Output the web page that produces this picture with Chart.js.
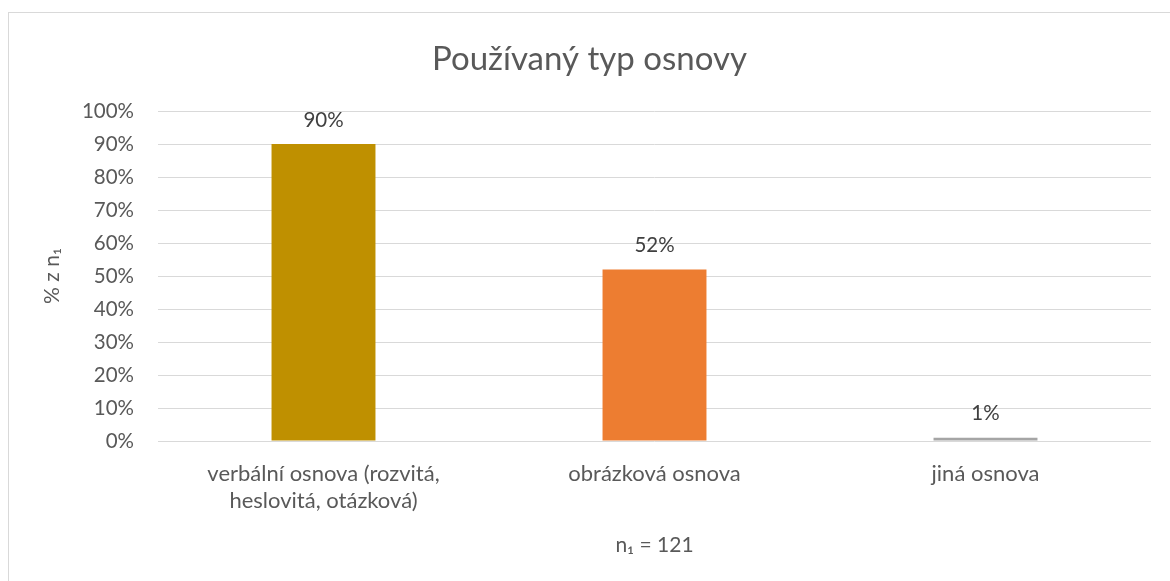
<!DOCTYPE html>
<html>
<head>
<meta charset="utf-8">
<script src="https://cdn.jsdelivr.net/npm/chart.js@4"></script>
<style>
    body { margin: 0; background: #fff; }
    #wrap { position: relative; width: 1170px; height: 581px; overflow: hidden; }
    #frame { position: absolute; left: 8px; top: 12px; width: 1200px; height: 620px; border: 1.5px solid #d9d9d9; }
    #chart { position: absolute; left: 0; top: 0; }
</style>
</head>
<body>
<div id="wrap">
    <div id="frame"></div>
    <canvas id="chart" width="1170" height="581"></canvas>
</div>
<script>
const categories = [
    ['verbální osnova (rozvitá,', 'heslovitá, otázková)'],
    'obrázková osnova',
    'jiná osnova'
];
const values = [90, 52, 1];
const barColors = ['#BF9000', '#ED7D31', '#A5A5A5'];
const yTicks = [0, 10, 20, 30, 40, 50, 60, 70, 80, 90, 100];

const fontFamily = 'Lato, "Open Sans", sans-serif';

// popisky hodnot nad sloupci
const valueLabels = {
    id: 'valueLabels',
    afterDatasetsDraw(chart) {
        const ctx = chart.ctx;
        ctx.save();
        ctx.font = '20.5px ' + fontFamily;
        ctx.fillStyle = '#404040';
        ctx.textAlign = 'center';
        ctx.textBaseline = 'middle';
        chart.getDatasetMeta(0).data.forEach((bar, i) => {
            ctx.fillText(values[i] + '%', bar.x, bar.y - 24);
        });
        ctx.restore();
    }
};

const chartData = {
    labels: categories,
    datasets: [{
        data: values,
        backgroundColor: barColors,
        borderWidth: 0,
        barPercentage: 0.314,
        categoryPercentage: 1
    }]
};

const config = {
    type: 'bar',
    data: chartData,
    options: {
        responsive: false,
        animation: false,
        layout: { padding: { left: 28, right: 19, top: 0, bottom: 0 } },
        plugins: {
            legend: { display: false },
            tooltip: { enabled: false },
            title: {
                display: true,
                text: 'Používaný typ osnovy',
                color: '#595959',
                font: { family: fontFamily, size: 33, weight: 'normal', lineHeight: 1.2 },
                padding: { top: 40, bottom: 31.4 }
            }
        },
        scales: {
            x: {
                grid: { display: false },
                border: { display: false },
                ticks: {
                    color: '#595959',
                    font: { family: fontFamily, size: 22, lineHeight: 1.23 },
                    padding: 11,
                    maxRotation: 0
                },
                title: {
                    display: true,
                    text: 'n₁ = 121',
                    color: '#595959',
                    font: { family: fontFamily, size: 21, lineHeight: 1.2 },
                    padding: 23
                },
                afterFit(scale) { scale.height = 140; }
            },
            y: {
                min: 0,
                max: 100,
                afterBuildTicks(scale) { scale.ticks = yTicks.map(v => ({ value: v })); },
                grid: { color: '#d9d9d9', lineWidth: 1, drawTicks: false },
                border: { display: false },
                ticks: {
                    color: '#595959',
                    font: { family: fontFamily, size: 20.5 },
                    padding: 24,
                    callback: v => v + '%'
                },
                title: {
                    display: true,
                    text: '% z n₁',
                    color: '#595959',
                    font: { family: fontFamily, size: 21, lineHeight: 1.2 },
                    padding: 12
                },
                afterFit(scale) { scale.width = 130; }
            }
        }
    },
    plugins: [valueLabels]
};

const ctx = document.getElementById('chart').getContext('2d');
new Chart(ctx, config);
</script>
</body>
</html>
